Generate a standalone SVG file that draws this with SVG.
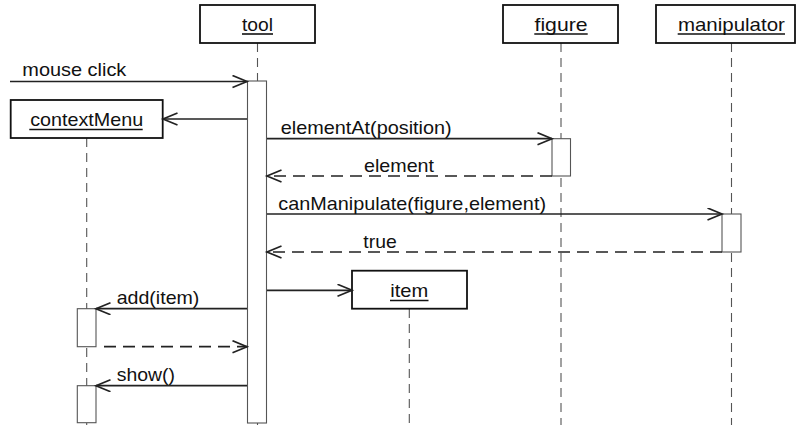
<svg xmlns="http://www.w3.org/2000/svg" width="799" height="425" viewBox="0 0 799 425">
<style>
.obj{fill:#fff;stroke:#111;stroke-width:1.8}
.life{stroke:#555;stroke-width:1.1;stroke-dasharray:9,6;fill:none}
.act{fill:#fff;stroke:#555;stroke-width:1.1}
.msg{stroke:#222;stroke-width:1.7;fill:none}
.ret{stroke:#222;stroke-width:1.7;fill:none;stroke-dasharray:12,7}
.ul{stroke:#111;stroke-width:1.6}
text{font-family:"Liberation Sans",Arial,sans-serif;font-size:18.5px;fill:#111}
.c{text-anchor:middle}
</style>
<defs>
<marker id="open" markerUnits="userSpaceOnUse" markerWidth="18" markerHeight="16" refX="15" refY="6.5" orient="auto">
<path d="M0.5,0.5 L15,6.5 L0.5,12.5" fill="none" stroke="#222" stroke-width="1.7"/>
</marker>
</defs>
<g id="lifelines">
<line class="life" x1="257.5" y1="43" x2="257.5" y2="425"/>
<line class="life" x1="86.7" y1="138" x2="86.7" y2="425"/>
<line class="life" x1="561" y1="43" x2="561" y2="425"/>
<line class="life" x1="731.5" y1="43" x2="731.5" y2="425"/>
<line class="life" x1="409.3" y1="309" x2="409.3" y2="425"/>
</g>
<g id="tool">
<rect class="obj" x="200" y="5" width="115" height="38"/>
<text class="c" x="257.5" y="31" textLength="31" lengthAdjust="spacingAndGlyphs">tool</text>
<line class="ul" x1="242" y1="34" x2="273" y2="34"/>
<rect class="act" x="247.5" y="81" width="19" height="342"/>
</g>
<g id="contextMenu">
<rect class="obj" x="10.7" y="100" width="152" height="38"/>
<text class="c" x="86.7" y="126" textLength="113" lengthAdjust="spacingAndGlyphs">contextMenu</text>
<line class="ul" x1="29.3" y1="129.5" x2="142.7" y2="129.5"/>
<rect class="act" x="77.3" y="308.7" width="18.7" height="38"/>
<rect class="act" x="77.3" y="385.7" width="18.7" height="37"/>
</g>
<g id="figure">
<rect class="obj" x="503" y="5" width="115" height="38"/>
<text class="c" x="561" y="31" textLength="53" lengthAdjust="spacingAndGlyphs">figure</text>
<line class="ul" x1="534.3" y1="34" x2="587.7" y2="34"/>
<rect class="act" x="552" y="138.7" width="18.5" height="37.3"/>
</g>
<g id="manipulator">
<rect class="obj" x="656" y="5" width="139" height="38"/>
<text class="c" x="731.4" y="31" textLength="107" lengthAdjust="spacingAndGlyphs">manipulator</text>
<line class="ul" x1="677.7" y1="34" x2="785" y2="34"/>
<rect class="act" x="722" y="214" width="19" height="38"/>
</g>
<g id="item">
<rect class="obj" x="352" y="270.7" width="115" height="38"/>
<text class="c" x="409.3" y="296.7" textLength="38" lengthAdjust="spacingAndGlyphs">item</text>
<line class="ul" x1="390" y1="300.5" x2="428.5" y2="300.5"/>
</g>
<g id="connectors">
<line class="msg" x1="10" y1="81.5" x2="247" y2="81.5" marker-end="url(#open)"/>
<text x="22.3" y="76" textLength="104" lengthAdjust="spacingAndGlyphs">mouse click</text>
<line class="msg" x1="247" y1="119" x2="163" y2="119" marker-end="url(#open)"/>
<line class="msg" x1="267" y1="138.7" x2="552" y2="138.7" marker-end="url(#open)"/>
<text x="280.7" y="134" textLength="171" lengthAdjust="spacingAndGlyphs">elementAt(position)</text>
<line class="ret" x1="552" y1="176" x2="267" y2="176" marker-end="url(#open)"/>
<text x="364" y="171.5" textLength="70" lengthAdjust="spacingAndGlyphs">element</text>
<line class="msg" x1="267" y1="214" x2="722" y2="214" marker-end="url(#open)"/>
<text x="278.3" y="209.5" textLength="267.7" lengthAdjust="spacingAndGlyphs">canManipulate(figure,element)</text>
<line class="ret" x1="722" y1="252" x2="267" y2="252" marker-end="url(#open)"/>
<text x="363.3" y="247.5" textLength="33.4" lengthAdjust="spacingAndGlyphs">true</text>
<line class="msg" x1="267" y1="290.3" x2="352" y2="290.3" marker-end="url(#open)"/>
<line class="msg" x1="247" y1="308.7" x2="96" y2="308.7" marker-end="url(#open)"/>
<text x="116.7" y="304" textLength="82.7" lengthAdjust="spacingAndGlyphs">add(item)</text>
<line class="ret" x1="104" y1="346.7" x2="247" y2="346.7" marker-end="url(#open)"/>
<line class="msg" x1="247" y1="385.7" x2="96" y2="385.7" marker-end="url(#open)"/>
<text x="116.7" y="381" textLength="58.3" lengthAdjust="spacingAndGlyphs">show()</text>
</g>
</svg>
